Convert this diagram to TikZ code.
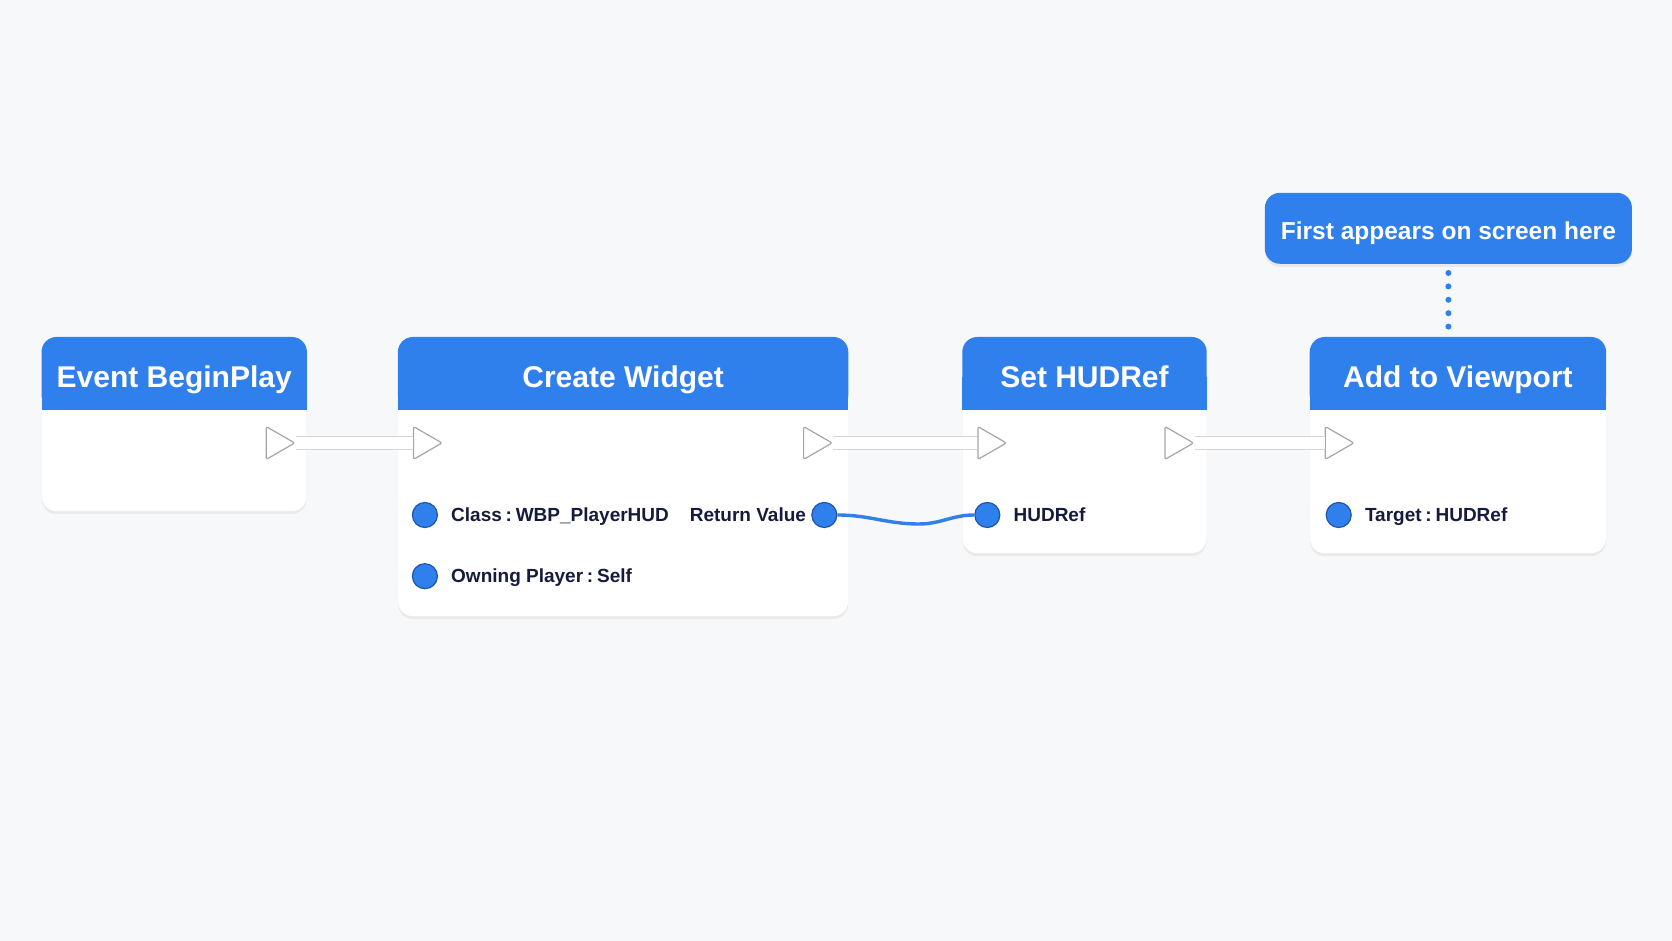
\documentclass[tikz,border=0pt]{standalone}
\usepackage{fontspec}
\setmainfont{Liberation Sans}
\usepackage{xcolor}
\usetikzlibrary{positioning,calc,shapes.geometric,shadows}
\definecolor{bpblue}{HTML}{2F80ED}
\definecolor{pinline}{HTML}{1F55A8}
\definecolor{ink}{HTML}{151B3D}
\definecolor{canvas}{HTML}{F7F8FA}
\tikzset{
  bpnode/.style={rectangle, fill=white, rounded corners=15pt, anchor=north west,
    drop shadow={opacity=0.11, shadow xshift=0pt, shadow yshift=-3pt}},
  ttl/.style={text=white, font=\fontsize{30}{36}\selectfont\bfseries, text height=21.5pt, text depth=0pt, minimum height=73pt, anchor=north, yshift=-3pt},
  expin/.style={regular polygon, regular polygon sides=3, shape border rotate=-90, minimum size=38pt, inner sep=0pt, fill=white, draw=black!35, line width=1.2pt, rounded corners=2pt},
  dpin/.style={circle, minimum size=25pt, inner sep=0pt, fill=bpblue, draw=pinline, line width=1.2pt},
  pintxt/.style={text=ink, font=\fontsize{19}{22}\selectfont\bfseries, text height=13.6pt, text depth=0pt, inner sep=0pt},
  exbar/.style={draw=black!16, line width=1pt, double=white, double distance=12pt},
  wire/.style={draw=bpblue, line width=3.4pt},
  dotln/.style={draw=bpblue, line width=6pt, line cap=round, dash pattern=on 0pt off 13.4pt, shorten <=9pt, shorten >=9pt},
  note/.style={rectangle, fill=bpblue, rounded corners=15pt, text=white, font=\fontsize{24.5}{30}\selectfont\bfseries, text height=23pt, text depth=0pt,
    drop shadow={opacity=0.11, shadow xshift=0pt, shadow yshift=-3pt}}
}
\begin{document}
\begin{tikzpicture}[x=1pt, y=1pt, node distance=91pt]
\fill[canvas] (0,0) rectangle (1672,941);
% blueprint nodes
\node[bpnode, minimum width=265pt, minimum height=174pt] (ev) at (41.5,604) {};
\node[bpnode, right=91pt of ev.north east, anchor=north west, minimum width=450pt, minimum height=279pt] (cw) {};
\node[bpnode, right=114pt of cw.north east, anchor=north west, minimum width=244pt, minimum height=216pt] (sh) {};
\node[bpnode, right=103pt of sh.north east, anchor=north west, minimum width=296pt, minimum height=216pt] (av) {};
\foreach \n in {ev,cw,sh,av} {
  \fill[bpblue, rounded corners=15pt] (\n.north west) rectangle ($(\n.north east)+(0,-73)$);
  \fill[bpblue] ($(\n.north west)+(0,-40)$) rectangle ($(\n.north east)+(0,-73)$);
}
\node[ttl] (evt) at (ev.north) {Event BeginPlay};
\node[ttl] (cwt) at (cw.north) {Create Widget};
\node[ttl] (sht) at (sh.north) {Set HUDRef};
\node[ttl] (avt) at (av.north) {Add to Viewport};
% exec pins
\node[expin, anchor=east] (evout) at ($(ev.north east)+(-11,-106)$) {};
\node[expin, anchor=west] (cwin) at ($(cw.north west)+(15,-106)$) {};
\node[expin, anchor=east] (cwout) at ($(cw.north east)+(-15,-106)$) {};
\node[expin, anchor=west] (shin) at ($(sh.north west)+(15,-106)$) {};
\node[expin, anchor=east] (shout) at ($(sh.north east)+(-12,-106)$) {};
\node[expin, anchor=west] (avin) at ($(av.north west)+(15,-106)$) {};
\foreach \a/\b in {evout/cwin, cwout/shin, shout/avin}
  \draw[exbar] (\a.east) -- (\b.west);
% data pins
\node[dpin] (cls) at ($(cw.north west)+(27,-178)$) {};
\node[dpin, below=35pt of cls] (own) {};
\node[dpin] (rv) at ($(cw.north east)+(-24,-178)$) {};
\node[dpin] (hp) at ($(sh.north west)+(25,-178)$) {};
\node[dpin] (tg) at ($(av.north west)+(29,-178)$) {};
\node[pintxt, right=13pt of cls] {Class\hspace{0.2em}:\hspace{0.2em}WBP\_PlayerHUD};
\node[pintxt, right=13pt of own] {Owning Player\hspace{0.2em}:\hspace{0.2em}Self};
\node[pintxt, left=5pt of rv] {Return Value};
\node[pintxt, right=13pt of hp] {HUDRef};
\node[pintxt, right=13pt of tg] {Target\hspace{0.2em}:\hspace{0.2em}HUDRef};
\coordinate (wdip) at ($(rv)!0.58!(hp)+(0,-9)$);
\draw[wire] (rv) to[out=0,in=180] (wdip) to[out=0,in=180] (hp);
% callout
\node[note, above=73pt of av, xshift=-9.5pt, minimum width=367pt, minimum height=71pt] (tip) {First appears on screen here};
\draw[dotln] (tip.south) -- (tip.south |- av.north);
\end{tikzpicture}
\end{document}
